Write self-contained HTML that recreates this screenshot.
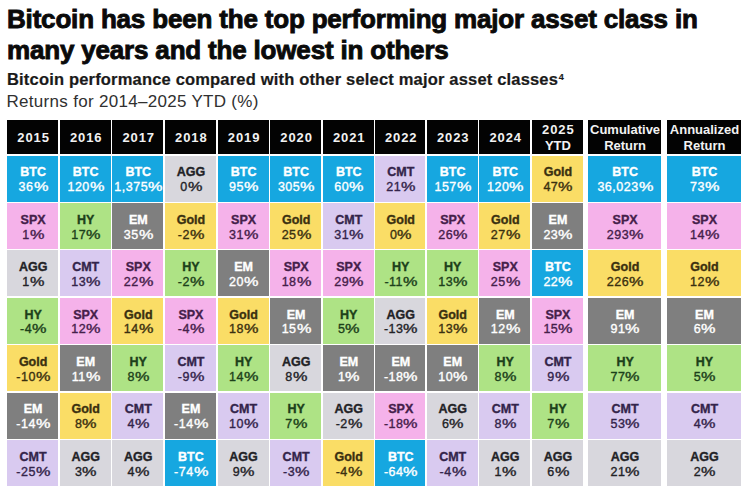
<!DOCTYPE html>
<html><head><meta charset="utf-8"><style>
*{margin:0;padding:0;box-sizing:border-box}
html,body{width:744px;height:493px;background:#fff;overflow:hidden}
body{position:relative;font-family:"Liberation Sans",Arial,sans-serif;color:#111}
.t{position:absolute;left:7px;white-space:nowrap;line-height:1}
.h1{font-weight:bold;font-size:26px;color:#0a0a0a;letter-spacing:-0.18px;-webkit-text-stroke:0.9px #0a0a0a}
.h2{font-weight:bold;font-size:16.5px;color:#1a1a1a;letter-spacing:0.18px;-webkit-text-stroke:0.2px #1a1a1a}
.h3{font-size:17px;color:#303030;letter-spacing:0.3px;margin-left:-0.5px}
.c{position:absolute;padding-left:1.2px;display:flex;flex-direction:column;align-items:center;justify-content:center;text-align:center;white-space:nowrap}
.hd{background:#030303;color:#f2f2f2;font-weight:bold;font-size:13px;line-height:15.4px;padding-top:1.5px}
.hd .y{letter-spacing:0.9px;margin-right:-0.9px}
.cl{font-size:12.5px;line-height:14.9px;padding-top:3.4px}
.cl .n{display:block;font-weight:bold;-webkit-text-stroke:0.35px currentColor}
.cl .v{display:block;font-weight:normal;-webkit-text-stroke:0.35px currentColor;letter-spacing:0.5px;margin-right:-0.5px}
.cl .pc{display:inline-block;transform:scaleX(1.3);transform-origin:0 0;margin-right:3px}
sup{font-size:9px;vertical-align:4.6px;margin-left:0.6px;font-weight:bold}
</style></head><body>
<div class="t h1" style="top:6.4px">Bitcoin has been the top performing major asset class in</div>
<div class="t h1" style="top:36.7px">many years and the lowest in others</div>
<div class="t h2" style="top:71px">Bitcoin performance compared with other select major asset classes<sup>4</sup></div>
<div class="t h3" style="top:92.9px">Returns for 2014&#8211;2025 YTD (%)</div>

<div class="c hd" style="left:7.00px;top:120px;width:51.05px;height:34.20px"><div><span class="y">2015</span></div></div>
<div class="c hd" style="left:59.65px;top:120px;width:50.95px;height:34.20px"><div><span class="y">2016</span></div></div>
<div class="c hd" style="left:112.20px;top:120px;width:51.00px;height:34.20px"><div><span class="y">2017</span></div></div>
<div class="c hd" style="left:164.80px;top:120px;width:51.10px;height:34.20px"><div><span class="y">2018</span></div></div>
<div class="c hd" style="left:217.50px;top:120px;width:51.00px;height:34.20px"><div><span class="y">2019</span></div></div>
<div class="c hd" style="left:270.10px;top:120px;width:50.95px;height:34.20px"><div><span class="y">2020</span></div></div>
<div class="c hd" style="left:322.65px;top:120px;width:51.05px;height:34.20px"><div><span class="y">2021</span></div></div>
<div class="c hd" style="left:375.30px;top:120px;width:49.75px;height:34.20px"><div><span class="y">2022</span></div></div>
<div class="c hd" style="left:426.65px;top:120px;width:50.95px;height:34.20px"><div><span class="y">2023</span></div></div>
<div class="c hd" style="left:479.20px;top:120px;width:51.00px;height:34.20px"><div><span class="y">2024</span></div></div>
<div class="c hd" style="left:531.80px;top:120px;width:51.10px;height:34.20px"><div><span class="y">2025</span><br>YTD</div></div>
<div class="c hd" style="left:588.20px;top:120px;width:72.60px;height:34.20px"><div>Cumulative<br>Return</div></div>
<div class="c hd" style="left:667.00px;top:120px;width:73.80px;height:34.20px"><div>Annualized<br>Return</div></div>
<div class="c cl" style="left:7.00px;top:155.60px;width:51.05px;height:46px;background:#16a7e0;color:#ffffff"><span class="n">BTC</span><span class="v">36<span class="pc">%</span></span></div>
<div class="c cl" style="left:59.65px;top:155.60px;width:50.95px;height:46px;background:#16a7e0;color:#ffffff"><span class="n">BTC</span><span class="v">120<span class="pc">%</span></span></div>
<div class="c cl" style="left:112.20px;top:155.60px;width:51.00px;height:46px;background:#16a7e0;color:#ffffff"><span class="n">BTC</span><span class="v">1,375<span class="pc">%</span></span></div>
<div class="c cl" style="left:164.80px;top:155.60px;width:51.10px;height:46px;background:#d8d7dd;color:#222226"><span class="n">AGG</span><span class="v">0<span class="pc">%</span></span></div>
<div class="c cl" style="left:217.50px;top:155.60px;width:51.00px;height:46px;background:#16a7e0;color:#ffffff"><span class="n">BTC</span><span class="v">95<span class="pc">%</span></span></div>
<div class="c cl" style="left:270.10px;top:155.60px;width:50.95px;height:46px;background:#16a7e0;color:#ffffff"><span class="n">BTC</span><span class="v">305<span class="pc">%</span></span></div>
<div class="c cl" style="left:322.65px;top:155.60px;width:51.05px;height:46px;background:#16a7e0;color:#ffffff"><span class="n">BTC</span><span class="v">60<span class="pc">%</span></span></div>
<div class="c cl" style="left:375.30px;top:155.60px;width:49.75px;height:46px;background:#d9caf0;color:#33244a"><span class="n">CMT</span><span class="v">21<span class="pc">%</span></span></div>
<div class="c cl" style="left:426.65px;top:155.60px;width:50.95px;height:46px;background:#16a7e0;color:#ffffff"><span class="n">BTC</span><span class="v">157<span class="pc">%</span></span></div>
<div class="c cl" style="left:479.20px;top:155.60px;width:51.00px;height:46px;background:#16a7e0;color:#ffffff"><span class="n">BTC</span><span class="v">120<span class="pc">%</span></span></div>
<div class="c cl" style="left:531.80px;top:155.60px;width:51.10px;height:46px;background:#fadd66;color:#3a3010"><span class="n">Gold</span><span class="v">47<span class="pc">%</span></span></div>
<div class="c cl" style="left:588.20px;top:155.60px;width:72.60px;height:46px;background:#16a7e0;color:#ffffff"><span class="n">BTC</span><span class="v">36,023<span class="pc">%</span></span></div>
<div class="c cl" style="left:667.00px;top:155.60px;width:73.80px;height:46px;background:#16a7e0;color:#ffffff"><span class="n">BTC</span><span class="v">73<span class="pc">%</span></span></div>
<div class="c cl" style="left:7.00px;top:202.98px;width:51.05px;height:46px;background:#f5b2ea;color:#45204a"><span class="n">SPX</span><span class="v">1<span class="pc">%</span></span></div>
<div class="c cl" style="left:59.65px;top:202.98px;width:50.95px;height:46px;background:#aee385;color:#1c401a"><span class="n">HY</span><span class="v">17<span class="pc">%</span></span></div>
<div class="c cl" style="left:112.20px;top:202.98px;width:51.00px;height:46px;background:#7f7f7f;color:#ffffff"><span class="n">EM</span><span class="v">35<span class="pc">%</span></span></div>
<div class="c cl" style="left:164.80px;top:202.98px;width:51.10px;height:46px;background:#fadd66;color:#3a3010"><span class="n">Gold</span><span class="v">-2<span class="pc">%</span></span></div>
<div class="c cl" style="left:217.50px;top:202.98px;width:51.00px;height:46px;background:#f5b2ea;color:#45204a"><span class="n">SPX</span><span class="v">31<span class="pc">%</span></span></div>
<div class="c cl" style="left:270.10px;top:202.98px;width:50.95px;height:46px;background:#fadd66;color:#3a3010"><span class="n">Gold</span><span class="v">25<span class="pc">%</span></span></div>
<div class="c cl" style="left:322.65px;top:202.98px;width:51.05px;height:46px;background:#d9caf0;color:#33244a"><span class="n">CMT</span><span class="v">31<span class="pc">%</span></span></div>
<div class="c cl" style="left:375.30px;top:202.98px;width:49.75px;height:46px;background:#fadd66;color:#3a3010"><span class="n">Gold</span><span class="v">0<span class="pc">%</span></span></div>
<div class="c cl" style="left:426.65px;top:202.98px;width:50.95px;height:46px;background:#f5b2ea;color:#45204a"><span class="n">SPX</span><span class="v">26<span class="pc">%</span></span></div>
<div class="c cl" style="left:479.20px;top:202.98px;width:51.00px;height:46px;background:#fadd66;color:#3a3010"><span class="n">Gold</span><span class="v">27<span class="pc">%</span></span></div>
<div class="c cl" style="left:531.80px;top:202.98px;width:51.10px;height:46px;background:#7f7f7f;color:#ffffff"><span class="n">EM</span><span class="v">23<span class="pc">%</span></span></div>
<div class="c cl" style="left:588.20px;top:202.98px;width:72.60px;height:46px;background:#f5b2ea;color:#45204a"><span class="n">SPX</span><span class="v">293<span class="pc">%</span></span></div>
<div class="c cl" style="left:667.00px;top:202.98px;width:73.80px;height:46px;background:#f5b2ea;color:#45204a"><span class="n">SPX</span><span class="v">14<span class="pc">%</span></span></div>
<div class="c cl" style="left:7.00px;top:250.36px;width:51.05px;height:46px;background:#d8d7dd;color:#222226"><span class="n">AGG</span><span class="v">1<span class="pc">%</span></span></div>
<div class="c cl" style="left:59.65px;top:250.36px;width:50.95px;height:46px;background:#d9caf0;color:#33244a"><span class="n">CMT</span><span class="v">13<span class="pc">%</span></span></div>
<div class="c cl" style="left:112.20px;top:250.36px;width:51.00px;height:46px;background:#f5b2ea;color:#45204a"><span class="n">SPX</span><span class="v">22<span class="pc">%</span></span></div>
<div class="c cl" style="left:164.80px;top:250.36px;width:51.10px;height:46px;background:#aee385;color:#1c401a"><span class="n">HY</span><span class="v">-2<span class="pc">%</span></span></div>
<div class="c cl" style="left:217.50px;top:250.36px;width:51.00px;height:46px;background:#7f7f7f;color:#ffffff"><span class="n">EM</span><span class="v">20<span class="pc">%</span></span></div>
<div class="c cl" style="left:270.10px;top:250.36px;width:50.95px;height:46px;background:#f5b2ea;color:#45204a"><span class="n">SPX</span><span class="v">18<span class="pc">%</span></span></div>
<div class="c cl" style="left:322.65px;top:250.36px;width:51.05px;height:46px;background:#f5b2ea;color:#45204a"><span class="n">SPX</span><span class="v">29<span class="pc">%</span></span></div>
<div class="c cl" style="left:375.30px;top:250.36px;width:49.75px;height:46px;background:#aee385;color:#1c401a"><span class="n">HY</span><span class="v">-11<span class="pc">%</span></span></div>
<div class="c cl" style="left:426.65px;top:250.36px;width:50.95px;height:46px;background:#aee385;color:#1c401a"><span class="n">HY</span><span class="v">13<span class="pc">%</span></span></div>
<div class="c cl" style="left:479.20px;top:250.36px;width:51.00px;height:46px;background:#f5b2ea;color:#45204a"><span class="n">SPX</span><span class="v">25<span class="pc">%</span></span></div>
<div class="c cl" style="left:531.80px;top:250.36px;width:51.10px;height:46px;background:#16a7e0;color:#ffffff"><span class="n">BTC</span><span class="v">22<span class="pc">%</span></span></div>
<div class="c cl" style="left:588.20px;top:250.36px;width:72.60px;height:46px;background:#fadd66;color:#3a3010"><span class="n">Gold</span><span class="v">226<span class="pc">%</span></span></div>
<div class="c cl" style="left:667.00px;top:250.36px;width:73.80px;height:46px;background:#fadd66;color:#3a3010"><span class="n">Gold</span><span class="v">12<span class="pc">%</span></span></div>
<div class="c cl" style="left:7.00px;top:297.74px;width:51.05px;height:46px;background:#aee385;color:#1c401a"><span class="n">HY</span><span class="v">-4<span class="pc">%</span></span></div>
<div class="c cl" style="left:59.65px;top:297.74px;width:50.95px;height:46px;background:#f5b2ea;color:#45204a"><span class="n">SPX</span><span class="v">12<span class="pc">%</span></span></div>
<div class="c cl" style="left:112.20px;top:297.74px;width:51.00px;height:46px;background:#fadd66;color:#3a3010"><span class="n">Gold</span><span class="v">14<span class="pc">%</span></span></div>
<div class="c cl" style="left:164.80px;top:297.74px;width:51.10px;height:46px;background:#f5b2ea;color:#45204a"><span class="n">SPX</span><span class="v">-4<span class="pc">%</span></span></div>
<div class="c cl" style="left:217.50px;top:297.74px;width:51.00px;height:46px;background:#fadd66;color:#3a3010"><span class="n">Gold</span><span class="v">18<span class="pc">%</span></span></div>
<div class="c cl" style="left:270.10px;top:297.74px;width:50.95px;height:46px;background:#7f7f7f;color:#ffffff"><span class="n">EM</span><span class="v">15<span class="pc">%</span></span></div>
<div class="c cl" style="left:322.65px;top:297.74px;width:51.05px;height:46px;background:#aee385;color:#1c401a"><span class="n">HY</span><span class="v">5<span class="pc">%</span></span></div>
<div class="c cl" style="left:375.30px;top:297.74px;width:49.75px;height:46px;background:#d8d7dd;color:#222226"><span class="n">AGG</span><span class="v">-13<span class="pc">%</span></span></div>
<div class="c cl" style="left:426.65px;top:297.74px;width:50.95px;height:46px;background:#fadd66;color:#3a3010"><span class="n">Gold</span><span class="v">13<span class="pc">%</span></span></div>
<div class="c cl" style="left:479.20px;top:297.74px;width:51.00px;height:46px;background:#7f7f7f;color:#ffffff"><span class="n">EM</span><span class="v">12<span class="pc">%</span></span></div>
<div class="c cl" style="left:531.80px;top:297.74px;width:51.10px;height:46px;background:#f5b2ea;color:#45204a"><span class="n">SPX</span><span class="v">15<span class="pc">%</span></span></div>
<div class="c cl" style="left:588.20px;top:297.74px;width:72.60px;height:46px;background:#7f7f7f;color:#ffffff"><span class="n">EM</span><span class="v">91<span class="pc">%</span></span></div>
<div class="c cl" style="left:667.00px;top:297.74px;width:73.80px;height:46px;background:#7f7f7f;color:#ffffff"><span class="n">EM</span><span class="v">6<span class="pc">%</span></span></div>
<div class="c cl" style="left:7.00px;top:345.12px;width:51.05px;height:46px;background:#fadd66;color:#3a3010"><span class="n">Gold</span><span class="v">-10<span class="pc">%</span></span></div>
<div class="c cl" style="left:59.65px;top:345.12px;width:50.95px;height:46px;background:#7f7f7f;color:#ffffff"><span class="n">EM</span><span class="v">11<span class="pc">%</span></span></div>
<div class="c cl" style="left:112.20px;top:345.12px;width:51.00px;height:46px;background:#aee385;color:#1c401a"><span class="n">HY</span><span class="v">8<span class="pc">%</span></span></div>
<div class="c cl" style="left:164.80px;top:345.12px;width:51.10px;height:46px;background:#d9caf0;color:#33244a"><span class="n">CMT</span><span class="v">-9<span class="pc">%</span></span></div>
<div class="c cl" style="left:217.50px;top:345.12px;width:51.00px;height:46px;background:#aee385;color:#1c401a"><span class="n">HY</span><span class="v">14<span class="pc">%</span></span></div>
<div class="c cl" style="left:270.10px;top:345.12px;width:50.95px;height:46px;background:#d8d7dd;color:#222226"><span class="n">AGG</span><span class="v">8<span class="pc">%</span></span></div>
<div class="c cl" style="left:322.65px;top:345.12px;width:51.05px;height:46px;background:#7f7f7f;color:#ffffff"><span class="n">EM</span><span class="v">1<span class="pc">%</span></span></div>
<div class="c cl" style="left:375.30px;top:345.12px;width:49.75px;height:46px;background:#7f7f7f;color:#ffffff"><span class="n">EM</span><span class="v">-18<span class="pc">%</span></span></div>
<div class="c cl" style="left:426.65px;top:345.12px;width:50.95px;height:46px;background:#7f7f7f;color:#ffffff"><span class="n">EM</span><span class="v">10<span class="pc">%</span></span></div>
<div class="c cl" style="left:479.20px;top:345.12px;width:51.00px;height:46px;background:#aee385;color:#1c401a"><span class="n">HY</span><span class="v">8<span class="pc">%</span></span></div>
<div class="c cl" style="left:531.80px;top:345.12px;width:51.10px;height:46px;background:#d9caf0;color:#33244a"><span class="n">CMT</span><span class="v">9<span class="pc">%</span></span></div>
<div class="c cl" style="left:588.20px;top:345.12px;width:72.60px;height:46px;background:#aee385;color:#1c401a"><span class="n">HY</span><span class="v">77<span class="pc">%</span></span></div>
<div class="c cl" style="left:667.00px;top:345.12px;width:73.80px;height:46px;background:#aee385;color:#1c401a"><span class="n">HY</span><span class="v">5<span class="pc">%</span></span></div>
<div class="c cl" style="left:7.00px;top:392.50px;width:51.05px;height:46px;background:#7f7f7f;color:#ffffff"><span class="n">EM</span><span class="v">-14<span class="pc">%</span></span></div>
<div class="c cl" style="left:59.65px;top:392.50px;width:50.95px;height:46px;background:#fadd66;color:#3a3010"><span class="n">Gold</span><span class="v">8<span class="pc">%</span></span></div>
<div class="c cl" style="left:112.20px;top:392.50px;width:51.00px;height:46px;background:#d9caf0;color:#33244a"><span class="n">CMT</span><span class="v">4<span class="pc">%</span></span></div>
<div class="c cl" style="left:164.80px;top:392.50px;width:51.10px;height:46px;background:#7f7f7f;color:#ffffff"><span class="n">EM</span><span class="v">-14<span class="pc">%</span></span></div>
<div class="c cl" style="left:217.50px;top:392.50px;width:51.00px;height:46px;background:#d9caf0;color:#33244a"><span class="n">CMT</span><span class="v">10<span class="pc">%</span></span></div>
<div class="c cl" style="left:270.10px;top:392.50px;width:50.95px;height:46px;background:#aee385;color:#1c401a"><span class="n">HY</span><span class="v">7<span class="pc">%</span></span></div>
<div class="c cl" style="left:322.65px;top:392.50px;width:51.05px;height:46px;background:#d8d7dd;color:#222226"><span class="n">AGG</span><span class="v">-2<span class="pc">%</span></span></div>
<div class="c cl" style="left:375.30px;top:392.50px;width:49.75px;height:46px;background:#f5b2ea;color:#45204a"><span class="n">SPX</span><span class="v">-18<span class="pc">%</span></span></div>
<div class="c cl" style="left:426.65px;top:392.50px;width:50.95px;height:46px;background:#d8d7dd;color:#222226"><span class="n">AGG</span><span class="v">6<span class="pc">%</span></span></div>
<div class="c cl" style="left:479.20px;top:392.50px;width:51.00px;height:46px;background:#d9caf0;color:#33244a"><span class="n">CMT</span><span class="v">8<span class="pc">%</span></span></div>
<div class="c cl" style="left:531.80px;top:392.50px;width:51.10px;height:46px;background:#aee385;color:#1c401a"><span class="n">HY</span><span class="v">7<span class="pc">%</span></span></div>
<div class="c cl" style="left:588.20px;top:392.50px;width:72.60px;height:46px;background:#d9caf0;color:#33244a"><span class="n">CMT</span><span class="v">53<span class="pc">%</span></span></div>
<div class="c cl" style="left:667.00px;top:392.50px;width:73.80px;height:46px;background:#d9caf0;color:#33244a"><span class="n">CMT</span><span class="v">4<span class="pc">%</span></span></div>
<div class="c cl" style="left:7.00px;top:439.88px;width:51.05px;height:46px;background:#d9caf0;color:#33244a"><span class="n">CMT</span><span class="v">-25<span class="pc">%</span></span></div>
<div class="c cl" style="left:59.65px;top:439.88px;width:50.95px;height:46px;background:#d8d7dd;color:#222226"><span class="n">AGG</span><span class="v">3<span class="pc">%</span></span></div>
<div class="c cl" style="left:112.20px;top:439.88px;width:51.00px;height:46px;background:#d8d7dd;color:#222226"><span class="n">AGG</span><span class="v">4<span class="pc">%</span></span></div>
<div class="c cl" style="left:164.80px;top:439.88px;width:51.10px;height:46px;background:#16a7e0;color:#ffffff"><span class="n">BTC</span><span class="v">-74<span class="pc">%</span></span></div>
<div class="c cl" style="left:217.50px;top:439.88px;width:51.00px;height:46px;background:#d8d7dd;color:#222226"><span class="n">AGG</span><span class="v">9<span class="pc">%</span></span></div>
<div class="c cl" style="left:270.10px;top:439.88px;width:50.95px;height:46px;background:#d9caf0;color:#33244a"><span class="n">CMT</span><span class="v">-3<span class="pc">%</span></span></div>
<div class="c cl" style="left:322.65px;top:439.88px;width:51.05px;height:46px;background:#fadd66;color:#3a3010"><span class="n">Gold</span><span class="v">-4<span class="pc">%</span></span></div>
<div class="c cl" style="left:375.30px;top:439.88px;width:49.75px;height:46px;background:#16a7e0;color:#ffffff"><span class="n">BTC</span><span class="v">-64<span class="pc">%</span></span></div>
<div class="c cl" style="left:426.65px;top:439.88px;width:50.95px;height:46px;background:#d9caf0;color:#33244a"><span class="n">CMT</span><span class="v">-4<span class="pc">%</span></span></div>
<div class="c cl" style="left:479.20px;top:439.88px;width:51.00px;height:46px;background:#d8d7dd;color:#222226"><span class="n">AGG</span><span class="v">1<span class="pc">%</span></span></div>
<div class="c cl" style="left:531.80px;top:439.88px;width:51.10px;height:46px;background:#d8d7dd;color:#222226"><span class="n">AGG</span><span class="v">6<span class="pc">%</span></span></div>
<div class="c cl" style="left:588.20px;top:439.88px;width:72.60px;height:46px;background:#d8d7dd;color:#222226"><span class="n">AGG</span><span class="v">21<span class="pc">%</span></span></div>
<div class="c cl" style="left:667.00px;top:439.88px;width:73.80px;height:46px;background:#d8d7dd;color:#222226"><span class="n">AGG</span><span class="v">2<span class="pc">%</span></span></div>
</body></html>
